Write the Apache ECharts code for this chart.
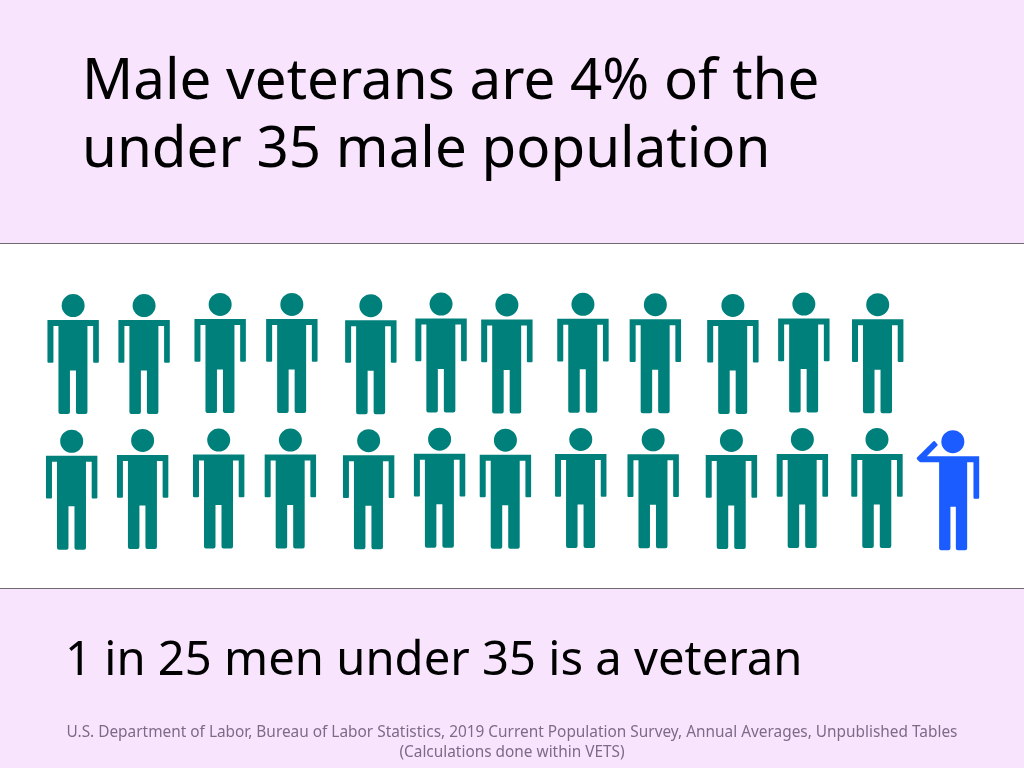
<!DOCTYPE html>
<html>
<head>
<meta charset="utf-8">
<title>Male veterans</title>
<script src="https://cdn.jsdelivr.net/npm/echarts@6/dist/echarts.min.js"></script>
<style>
html,body{margin:0;padding:0;background:#f8e5fd;}
#chart{width:1024px;height:768px;}
</style>
</head>
<body>
<div id="chart"></div>
<script>
// seat positions of the figures, in seats and rows, as placed on the slide
var topSeats = [1.00,1.97,3.01,3.99,5.07,6.03,6.93,7.97,8.96,10.02,10.99,12.00];
var topRows = [0.809,0.809,0.801,0.801,0.810,0.798,0.805,0.800,0.803,0.808,0.798,0.803];
var bottomSeats = [0.98,1.95,2.99,3.97,5.04,6.01,6.91,7.94,8.93,10.00,10.97,11.99];
var bottomRows = [1.807,1.801,1.798,1.798,1.803,1.792,1.799,1.794,1.796,1.801,1.794,1.794];
var veteranSeat = [12.96];
var veteranRow = [1.810];

var titleLines = 'Male veterans are 4% of the\nunder 35 male population';
var subtitle = '1 in 25 men under 35 is a veteran';
var sourceLines = 'U.S. Department of Labor, Bureau of Labor Statistics, 2019 Current Population Survey, Annual Averages, Unpublished Tables\n(Calculations done within VETS)';

var personPath = 'path://M25.7 0a11.5 11.5 0 1 1 0 23a11.5 11.5 0 1 1 0-23ZM0 26H51.4V67.7Q51.4 68.7 50.4 68.7H46.7Q45.7 68.7 45.7 67.7V32H40V118Q40 120 38 120H30.5Q28.5 120 28.5 118V76.5H22.5V118Q22.5 120 20.5 120H13Q11 120 11 118V32H6V67.7Q6 68.7 5 68.7H1Q0 68.7 0 67.7Z';
var saluterPath = 'path://M36.2 0a11.5 11.5 0 1 1 0 23a11.5 11.5 0 1 1 0-23ZM0.4 27.4L16.8 11.2Q17.5 10.5 18.2 11.2L20.8 14Q21.4 14.7 20.8 15.4L10.2 26H62.5V67.7Q62.5 68.7 61.5 68.7H57.8Q56.8 68.7 56.8 67.7V32H50.5V118Q50.5 120 48.5 120H41.2Q39.2 120 39.2 118V76.5H33.8V118Q33.8 120 31.8 120H24.5Q22.5 120 22.5 118V32H4Q3.2 32 2.6 31.4L0.4 29Q-0.2 28.2 0.4 27.4Z';

function pairs(xs, ys) {
    return xs.map(function (x, i) { return [x, ys[i]]; });
}

var myChart = echarts.init(document.getElementById('chart'), null, {renderer: 'canvas'});
var option = {
    animation: false,
    backgroundColor: '#f8e5fd',
    title: [
        {
            text: titleLines, left: 82, top: 49, padding: 0,
            textStyle: {fontFamily: 'Noto Sans', fontSize: 56.5, fontWeight: 'normal', color: '#000', lineHeight: 68}
        },
        {
            text: subtitle, left: 65, top: 634, padding: 0,
            textStyle: {fontFamily: 'Noto Sans', fontSize: 47.2, fontWeight: 'normal', color: '#000', lineHeight: 56}
        },
        {
            text: sourceLines, left: 512, top: 723, padding: 0, textAlign: 'center',
            textStyle: {fontFamily: 'Noto Sans', fontSize: 15.4, fontWeight: 'normal', color: '#7d6a86', lineHeight: 20, align: 'center'}
        }
    ],
    graphic: [
        {type: 'rect', z: -1, shape: {x: 0, y: 243, width: 1024, height: 345}, style: {fill: '#fff'}},
        {type: 'line', z: 0, shape: {x1: 0, y1: 243.5, x2: 1024, y2: 243.5}, style: {stroke: '#6e6a70', lineWidth: 1}},
        {type: 'line', z: 0, shape: {x1: 0, y1: 588.5, x2: 1024, y2: 588.5}, style: {stroke: '#6e6a70', lineWidth: 1}}
    ],
    grid: {left: 0, top: 244, width: 1024, height: 340},
    xAxis: {type: 'value', min: 0, max: 14, show: false},
    yAxis: {type: 'value', min: 0, max: 2.5, inverse: true, show: false},
    series: [
        {
            name: 'Non-veterans', type: 'scatter',
            symbol: personPath, symbolSize: [51.4, 120], symbolKeepAspect: false,
            itemStyle: {color: '#00807b', opacity: 1},
            data: pairs(topSeats, topRows).concat(pairs(bottomSeats, bottomRows))
        },
        {
            name: 'Veterans', type: 'scatter',
            symbol: saluterPath, symbolSize: [62.5, 120], symbolKeepAspect: false,
            itemStyle: {color: '#1a5cff', opacity: 1},
            data: pairs(veteranSeat, veteranRow)
        }
    ]
};
myChart.setOption(option);
</script>
</body>
</html>
